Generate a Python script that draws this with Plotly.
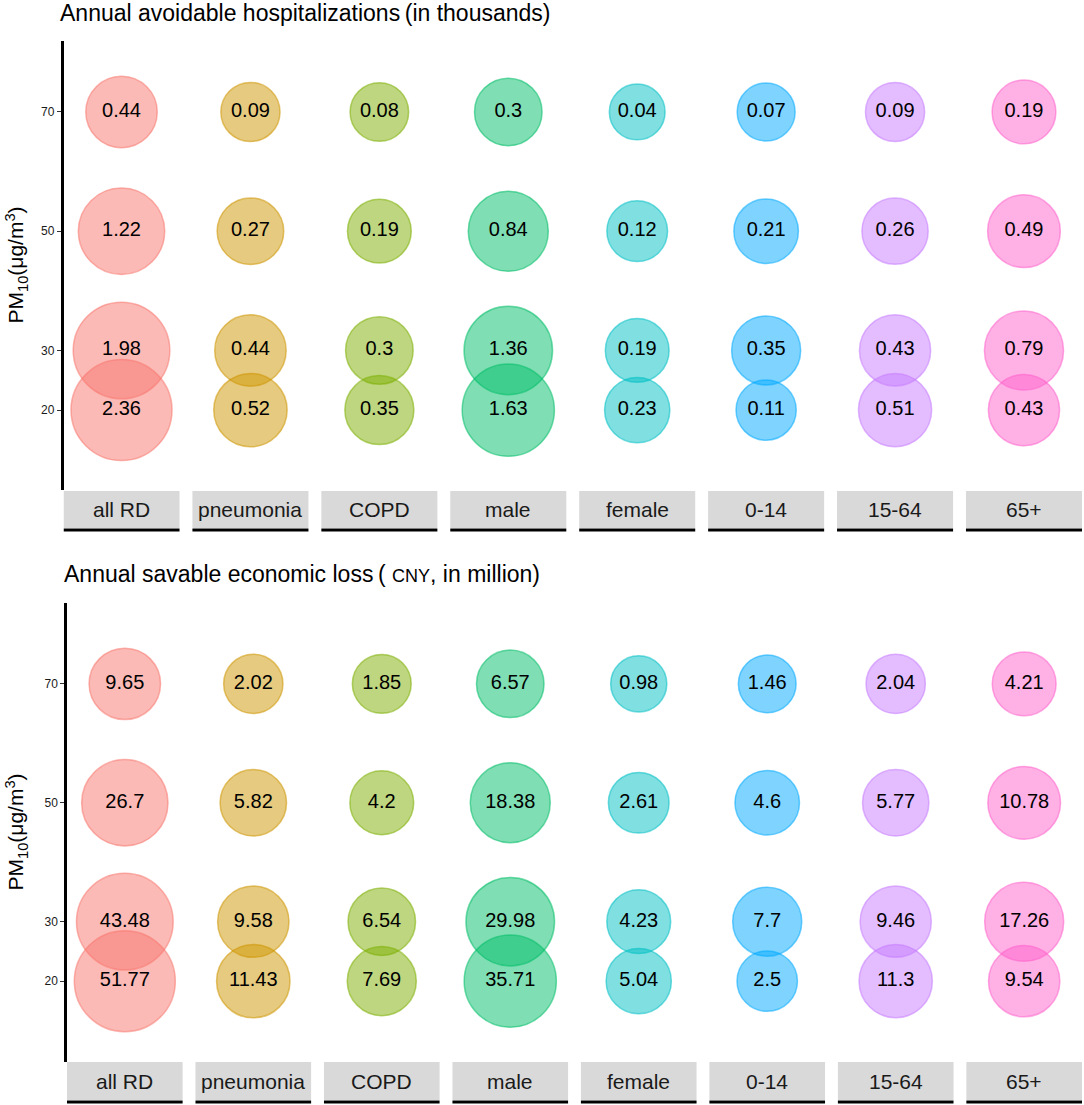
import numpy as np
import plotly.graph_objects as go
from plotly.subplots import make_subplots

# ---- data ----
categories = ["all RD", "pneumonia", "COPD", "male", "female", "0-14", "15-64", "65+"]
pm_levels = [70, 50, 30, 20]

# annual avoidable hospitalizations (thousands), per category at PM10 = 70, 50, 30, 20
hosp_all_rd = [0.44, 1.22, 1.98, 2.36]
hosp_pneumonia = [0.09, 0.27, 0.44, 0.52]
hosp_copd = [0.08, 0.19, 0.3, 0.35]
hosp_male = [0.3, 0.84, 1.36, 1.63]
hosp_female = [0.04, 0.12, 0.19, 0.23]
hosp_0_14 = [0.07, 0.21, 0.35, 0.11]
hosp_15_64 = [0.09, 0.26, 0.43, 0.51]
hosp_65 = [0.19, 0.49, 0.79, 0.43]

# annual savable economic loss (CNY, million)
loss_all_rd = [9.65, 26.7, 43.48, 51.77]
loss_pneumonia = [2.02, 5.82, 9.58, 11.43]
loss_copd = [1.85, 4.2, 6.54, 7.69]
loss_male = [6.57, 18.38, 29.98, 35.71]
loss_female = [0.98, 2.61, 4.23, 5.04]
loss_0_14 = [1.46, 4.6, 7.7, 2.5]
loss_15_64 = [2.04, 5.77, 9.46, 11.3]
loss_65 = [4.21, 10.78, 17.26, 9.54]

hosp = [hosp_all_rd, hosp_pneumonia, hosp_copd, hosp_male,
        hosp_female, hosp_0_14, hosp_15_64, hosp_65]
loss = [loss_all_rd, loss_pneumonia, loss_copd, loss_male,
        loss_female, loss_0_14, loss_15_64, loss_65]

colors = ["#F8766D", "#CD9600", "#7CAE00", "#00BE67",
          "#00BFC4", "#00A9FF", "#C77CFF", "#FF61CC"]

W, H = 1084, 1105
FONT = "Liberation Sans, Arial, sans-serif"


def py(y):
    # pixel row -> paper coordinate
    return 1 - y / H


def rgba(hex_c, a):
    h = hex_c.lstrip("#")
    return "rgba(%d,%d,%d,%s)" % (int(h[0:2], 16), int(h[2:4], 16), int(h[4:6], 16), a)


fig = make_subplots(rows=2, cols=1)

panels = [
    dict(values=hosp, row=1, xd=(63.5, 1082), yd=(41, 490), yrange=[6.6, 81.9],
         strip=(491, 528), uline=530,
         title="Annual avoidable hospitalizations\u2009(in thousands)", ty=13, tx=58),
    dict(values=loss, row=2, xd=(67, 1082), yd=(603, 1062), yrange=[6.4, 83.6],
         strip=(1062, 1100), uline=1102,
         title="Annual savable economic loss\u2009( <span style='font-size:18px'>CNY</span>, in million)",
         ty=574, tx=62),
]

for p in panels:
    vals = p["values"]
    vmax = max(max(v) for v in vals)
    xs_txt, ys_txt, txt = [], [], []
    for i, cat in enumerate(categories):
        v = np.array(vals[i])
        size = 49 + 52 * np.sqrt(v / vmax)
        fig.add_trace(go.Scatter(
            x=[i] * len(pm_levels), y=pm_levels, mode="markers", name=cat,
            marker=dict(size=size, sizemode="diameter", opacity=1,
                        color=rgba(colors[i], 0.5),
                        line=dict(color=rgba(colors[i], 0.55), width=1.5)),
            showlegend=False, hoverinfo="skip"), row=p["row"], col=1)
        xs_txt += [i] * len(pm_levels)
        ys_txt += pm_levels
        txt += [str(x) for x in vals[i]]
    fig.add_trace(go.Scatter(
        x=xs_txt, y=ys_txt, mode="text", text=txt, textposition="middle center",
        textfont=dict(size=20, color="black", family=FONT),
        showlegend=False, hoverinfo="skip"), row=p["row"], col=1)

    xa = "xaxis" if p["row"] == 1 else "xaxis2"
    ya = "yaxis" if p["row"] == 1 else "yaxis2"
    xr = "x" if p["row"] == 1 else "x2"
    fig.layout[xa].update(domain=[p["xd"][0] / W, p["xd"][1] / W], range=[-0.45, 7.45],
                          showticklabels=False, showgrid=False, zeroline=False,
                          showline=False, ticks="")
    fig.layout[ya].update(domain=[py(p["yd"][1]), py(p["yd"][0])], range=p["yrange"],
                          tickvals=pm_levels, ticks="outside", ticklen=4, tickwidth=1.2,
                          tickcolor="#333333", showline=True, linewidth=2.5,
                          linecolor="black", showgrid=False, zeroline=False,
                          tickfont=dict(size=12, color="#1a1a1a", family=FONT))

    # facet strips
    for i, cat in enumerate(categories):
        fig.add_shape(type="rect", xref=xr, yref="paper",
                      x0=i - 0.45, x1=i + 0.45, y0=py(p["strip"][1]), y1=py(p["strip"][0]),
                      fillcolor="#D9D9D9", line=dict(width=0), layer="below")
        fig.add_shape(type="line", xref=xr, yref="paper",
                      x0=i - 0.45, x1=i + 0.45, y0=py(p["uline"]), y1=py(p["uline"]),
                      line=dict(color="black", width=3))
        fig.add_annotation(xref=xr, yref="paper", x=i,
                           y=(py(p["strip"][0]) + py(p["strip"][1])) / 2,
                           text=cat, showarrow=False, yanchor="middle",
                           font=dict(size=21, color="#1a1a1a", family=FONT))

    # panel title
    fig.add_annotation(xref="paper", yref="paper", x=p["tx"] / W, y=py(p["ty"]),
                       xanchor="left", yanchor="middle", text=p["title"], showarrow=False,
                       font=dict(size=23, color="black", family=FONT))
    # y-axis title
    fig.add_annotation(xref="paper", yref="paper", x=16 / W,
                       y=(py(p["yd"][0]) + py(p["yd"][1])) / 2,
                       xanchor="center", yanchor="middle", textangle=-90,
                       text="PM<sub>10</sub>(μg/m<sup>3</sup>)", showarrow=False,
                       font=dict(size=21, color="black", family=FONT))

fig.update_layout(width=W, height=H, margin=dict(l=0, r=0, t=0, b=0),
                  plot_bgcolor="white", paper_bgcolor="white",
                  font=dict(family=FONT))

# drop the browser's default page margin so the figure sits at the window origin
fig.write_html("out.html", config={"displayModeBar": False},
               post_script="document.body.style.margin='0';")
